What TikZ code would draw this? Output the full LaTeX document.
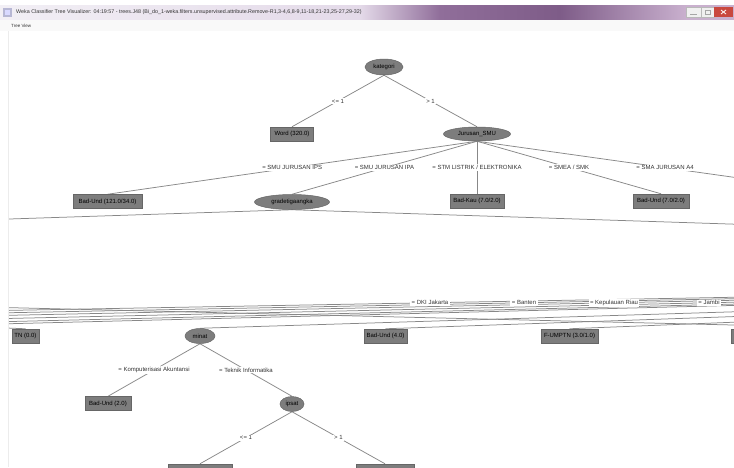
\documentclass[tikz,border=0pt]{standalone}
\usepackage{fontspec}
\setmainfont{Liberation Sans}
\usetikzlibrary{shapes.geometric,calc,backgrounds}
\definecolor{nodegray}{HTML}{7D7D7D}
\definecolor{nodeline}{HTML}{666666}
\definecolor{edgegray}{HTML}{888888}
\definecolor{tbA}{HTML}{F2EFF5}
\definecolor{tbB}{HTML}{E4DAE9}
\definecolor{tbC}{HTML}{906E9A}
\definecolor{tbD}{HTML}{7E5C88}
\definecolor{tbE}{HTML}{C9B0CE}
\definecolor{closered}{HTML}{C9483F}
\newcommand\wkNodeFont{\fontsize{6}{7}\selectfont}
\newcommand\wkLabFont{\fontsize{6}{7}\selectfont}
\begin{document}
\begin{tikzpicture}[x=1pt,y=-1pt,
  leaf/.style={rectangle, fill=nodegray, draw=nodeline, line width=0.5pt,
    minimum height=14pt, inner xsep=2pt, inner ysep=0pt, font=\wkNodeFont, text=black},
  split/.style={ellipse, fill=nodegray, draw=nodeline, line width=0.5pt,
    inner sep=0pt, font=\wkNodeFont, text=black},
  elabel/.style={fill=white, inner xsep=1.5pt, inner ysep=1pt, font=\wkLabFont, text=black!80},
  conn/.style={draw=edgegray, line width=0.75pt}]
\useasboundingbox (0,0) rectangle (734,467);
\begin{pgfonlayer}{background}
  \fill[white] (0,0) rectangle (734,467);
\end{pgfonlayer}
% window chrome
\shade[left color=tbA, right color=tbB] (0,5) rectangle (360,20);
\shade[left color=tbB, right color=tbC] (360,5) rectangle (440,20);
\shade[left color=tbC, right color=tbD] (440,5) rectangle (560,20);
\shade[left color=tbD, right color=tbE] (560,5) rectangle (686,20);
\fill[tbE] (686,5) rectangle (734,20);
\fill[gray!12] (686,7) rectangle (701,17);
\draw[gray!55, line width=0.4pt] (686,7) rectangle (701,17);
\draw[gray!70, line width=0.8pt] (690,14) -- (697,14);
\fill[gray!12] (701,7) rectangle (714,17);
\draw[gray!55, line width=0.4pt] (701,7) rectangle (714,17);
\draw[gray!70, line width=0.6pt] (705,10) rectangle (710,14.5);
\fill[closered] (714,7) rectangle (733,17);
\draw[white, line width=0.8pt] (721,10) -- (726,14) (721,14) -- (726,10);
\fill[blue!25!gray!45] (3,8) rectangle (12,17);
\fill[white!85!blue] (5,10) rectangle (10,15);
\node[anchor=west, inner sep=0pt, font=\fontsize{5.35}{6}\selectfont, text=black!80] (title) at (16,12.5)
  {Weka Classifier Tree Visualizer: 04:19:57 - trees.J48 (Bi\_do\_1-weka.filters.unsupervised.attribute.Remove-R1,3-4,6,8-9,11-18,21-23,25-27,29-32)};
\fill[gray!5] (0,20) rectangle (734,31);
\node[anchor=west, inner sep=0pt, font=\fontsize{4.5}{5}\selectfont, text=black!80] (menu) at (11,25.5) {Tree View};
\draw[gray!15, line width=0.5pt] (8.5,31) -- (8.5,467);

\begin{scope}
\clip (9,31) rectangle (734,467);
% tree nodes
\node[split, minimum width=38pt, minimum height=16pt] (kat) at (384,67) {kategori};
\node[leaf, minimum width=43pt] (word) at (292,134) {Word (320.0)};
\node[split, minimum width=67pt, minimum height=14pt] (jur) at (477,134) {Jurusan\_SMU};
\node[leaf, minimum width=69pt] (bu121) at (107.5,201.5) {Bad-Und (121.0/34.0)};
\node[split, minimum width=75pt, minimum height=15pt] (grade) at (292,202) {gradetigaangka};
\node[leaf, minimum width=54pt] (bkau) at (477,201) {Bad-Kau (7.0/2.0)};
\node[leaf, minimum width=56pt] (bu7) at (661,201) {Bad-Und (7.0/2.0)};
\coordinate (a4child) at (853,194);
\node[leaf, minimum width=27pt] (tn) at (25.5,336) {TN (0.0)};
\node[split, minimum width=30pt, minimum height=15pt] (minat) at (200,336) {minat};
\node[leaf, minimum width=43pt] (bu4) at (385.5,336) {Bad-Und (4.0)};
\node[leaf, minimum width=57pt] (fum) at (569.5,336) {F-UMPTN (3.0/1.0)};
\node[leaf, minimum width=58pt] (rcut) at (760,336) {};
\node[leaf, minimum width=46pt] (bu2) at (108,403.5) {Bad-Und (2.0)};
\node[split, minimum width=24pt, minimum height=15pt] (ipsat) at (292,404) {ipsat};
\node[leaf, minimum width=64pt] (bl) at (200,471) {};
\node[leaf, minimum width=58pt] (br) at (385,471) {};
% off-view tree points
\coordinate (pln) at (-1290,261.5);
\coordinate (pls) at (-1290,276.5);
\coordinate (prn) at (1880,261.5);
\coordinate (prs) at (1880,276.5);
\coordinate (cdki) at (-1020,329);
\coordinate (cban) at (-832,329);
\coordinate (ckep) at (-652,329);
\coordinate (cjam) at (-462,329);
\coordinate (cm200) at (-200,329);
\coordinate (cm300) at (-300,329);
\coordinate (c900) at (900,329);
% edge labels
\node[elabel] (lle) at ($(kat.south)!0.5!(word.north)$) {<= 1};
\node[elabel] (lgt) at ($(kat.south)!0.5!(jur.north)$) {> 1};
\node[elabel] (lips) at ($(jur.south)!0.5!(bu121.north)$) {= SMU JURUSAN IPS};
\node[elabel] (lipa) at ($(jur.south)!0.5!(grade.north)$) {= SMU JURUSAN IPA};
\node[elabel] (lstm) at ($(jur.south)!0.5!(bkau.north)$) {= STM LISTRIK / ELEKTRONIKA};
\node[elabel] (lsmea) at ($(jur.south)!0.5!(bu7.north)$) {= SMEA / SMK};
\node[elabel] (la4) at ($(jur.south)!0.5!(a4child)$) {= SMA JURUSAN A4};
\node[elabel] (ldki) at ($(prs)!0.5!(cdki)$) {= DKI Jakarta};
\node[elabel] (lban) at ($(prs)!0.5!(cban)$) {= Banten};
\node[elabel] (lkep) at ($(prs)!0.5!(ckep)$) {= Kepulauan Riau};
\node[elabel] (ljam) at ($(prs)!0.5!(cjam)$) {= Jambi};
\node[elabel] (lkom) at ($(minat.south)!0.5!(bu2.north)$) {= Komputerisasi Akuntansi};
\node[elabel] (ltek) at ($(minat.south)!0.5!(ipsat.north)$) {= Teknik Informatika};
\node[elabel] (lle2) at ($(ipsat.south)!0.5!(bl.north)$) {<= 1};
\node[elabel] (lgt2) at ($(ipsat.south)!0.5!(br.north)$) {> 1};
\end{scope}

\begin{pgfonlayer}{background}
\begin{scope}
\clip (9,31) rectangle (734,467);
\draw[conn] (kat.south) -- (word.north);
\draw[conn] (kat.south) -- (jur.north);
\draw[conn] (jur.south) -- (bu121.north);
\draw[conn] (jur.south) -- (grade.north);
\draw[conn] (jur.south) -- (bkau.north);
\draw[conn] (jur.south) -- (bu7.north);
\draw[conn] (jur.south) -- (a4child);
\draw[conn] (grade.south) -- (pln);
\draw[conn] (grade.south) -- (prn);
\draw[conn] (pls) -- (tn.north);
\draw[conn] (pls) -- (c900);
\draw[conn] (prs) -- (cdki);
\draw[conn] (prs) -- (cban);
\draw[conn] (prs) -- (ckep);
\draw[conn] (prs) -- (cjam);
\draw[conn] (prs) -- (cm200);
\draw[conn] (prs) -- (cm300);
\draw[conn] (prs) -- (minat.north);
\draw[conn] (prs) -- (bu4.north);
\draw[conn] (prs) -- (fum.north);
\draw[conn] (prs) -- (rcut.north);
\draw[conn] (minat.south) -- (bu2.north);
\draw[conn] (minat.south) -- (ipsat.north);
\draw[conn] (ipsat.south) -- (bl.north);
\draw[conn] (ipsat.south) -- (br.north);
\end{scope}
\end{pgfonlayer}
\end{tikzpicture}
\end{document}
